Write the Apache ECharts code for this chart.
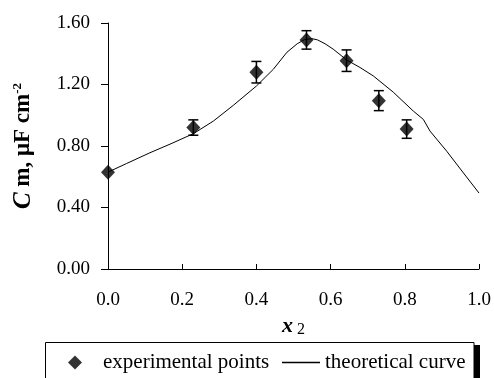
<!DOCTYPE html>
<html>
<head>
<meta charset="utf-8">
<script src="https://cdn.jsdelivr.net/npm/echarts@6/dist/echarts.min.js"></script>
<style>html,body{margin:0;padding:0;background:#fff}#c{width:494px;height:378px}</style>
</head>
<body>
<div id="c"></div>
<script>
// experimental points
var expX = [0.0, 0.23, 0.40, 0.535, 0.643, 0.73, 0.805];
var expY = [0.63, 0.92, 1.28, 1.49, 1.355, 1.095, 0.91];
var expErr = [0.0, 0.05, 0.07, 0.06, 0.07, 0.065, 0.06];
// theoretical curve
var curveX = [0.0, 0.05, 0.113, 0.17, 0.23, 0.284, 0.338, 0.40, 0.446, 0.482, 0.51, 0.53, 0.55, 0.565, 0.585, 0.607, 0.643, 0.679, 0.715, 0.769, 0.823, 0.85, 0.868, 0.913, 0.958, 1.0];
var curveY = [0.63, 0.686, 0.756, 0.815, 0.88, 0.962, 1.065, 1.19, 1.30, 1.409, 1.465, 1.492, 1.498, 1.49, 1.465, 1.43, 1.36, 1.311, 1.256, 1.15, 1.027, 0.973, 0.897, 0.766, 0.625, 0.494];
var xTicks = [0, 0.2, 0.4, 0.6, 0.8, 1.0];
var yTicks = [0, 0.4, 0.8, 1.2, 1.6];

var FONT = '"Liberation Serif", "Times New Roman", serif';
var expData = expX.map(function (x, i) { return [x, expY[i], expErr[i]]; });
var curveData = curveX.map(function (x, i) { return [x, curveY[i]]; });

var chart = echarts.init(document.getElementById('c'));
chart.setOption({
  animation: false,
  backgroundColor: '#fff',
  textStyle: { fontFamily: FONT, color: '#000' },
  grid: { left: 108, right: 15, top: 23, bottom: 109, containLabel: false, outerBoundsMode: 'none' },
  xAxis: {
    type: 'value', min: xTicks[0], max: xTicks[xTicks.length - 1], interval: 0.2,
    axisLine: { onZero: false, lineStyle: { color: '#000', width: 1 } },
    axisTick: { inside: true, length: 5, lineStyle: { color: '#000' } },
    splitLine: { show: false },
    axisLabel: { margin: 22, fontSize: 19, fontFamily: FONT, color: '#000', formatter: function (v) { return v.toFixed(1); } },
    name: '{x|x}{s| 2}', nameLocation: 'middle', nameGap: 39,
    nameTextStyle: { fontFamily: FONT, rich: {
      x: { fontFamily: FONT, fontSize: 22, fontWeight: 'bold', fontStyle: 'italic', color: '#000' },
      s: { fontFamily: FONT, fontSize: 16, color: '#000', padding: [8, 0, 0, 0] }
    } }
  },
  yAxis: {
    type: 'value', min: yTicks[0], max: yTicks[yTicks.length - 1], interval: 0.4,
    axisLine: { show: true, lineStyle: { color: '#000', width: 1 } },
    axisTick: { show: true, length: 7, lineStyle: { color: '#000' } },
    splitLine: { show: false },
    axisLabel: { margin: 18, fontSize: 19, fontFamily: FONT, color: '#000', formatter: function (v) { return v.toFixed(2); } },
    name: '{c|C}{m| m, μF cm}{p|-2}', nameLocation: 'middle', nameGap: 72, nameRotate: 90,
    nameTextStyle: { fontFamily: FONT, rich: {
      c: { fontFamily: FONT, fontSize: 25, fontWeight: 'bold', fontStyle: 'italic', color: '#000' },
      m: { fontFamily: FONT, fontSize: 23, fontWeight: 'bold', color: '#000' },
      p: { fontFamily: FONT, fontSize: 13, fontWeight: 'bold', color: '#000', padding: [0, 0, 12, 0] }
    } }
  },
  graphic: [
    { type: 'rect', shape: { x: 474, y: 345, width: 6, height: 40 }, style: { fill: '#000' }, z: 0 },
    { type: 'rect', shape: { x: 45.5, y: 342.5, width: 428.5, height: 50 }, style: { fill: '#fff', stroke: '#000', lineWidth: 1 }, z: 1 }
  ],
  legend: [
    { data: [{ name: 'experimental points', icon: 'diamond' }], left: 68, top: 352, padding: 0, itemWidth: 14, itemHeight: 14, z: 10,
      textStyle: { fontFamily: FONT, fontSize: 21, color: '#000', padding: [0, 0, 0, 16] }, selectedMode: false },
    { data: [{ name: 'theoretical curve', icon: 'rect' }], left: 282, top: 352, padding: 0, itemWidth: 38, itemHeight: 1.5, z: 10,
      textStyle: { fontFamily: FONT, fontSize: 21, color: '#000' }, selectedMode: false }
  ],
  series: [
    { name: 'theoretical curve', type: 'line', data: curveData, symbol: 'none', smooth: false,
      lineStyle: { color: '#000', width: 1 }, itemStyle: { color: '#000' }, z: 2 },
    { name: 'error', type: 'custom', data: expData, encode: { x: 0, y: 1 }, z: 3,
      renderItem: function (params, api) {
        var x = api.value(0), y = api.value(1), e = api.value(2);
        if (!e) return null;
        var t = api.coord([x, y + e]), b = api.coord([x, y - e]);
        var w = 5;
        var st = { stroke: '#000', lineWidth: 1.5 };
        return { type: 'group', children: [
          { type: 'line', shape: { x1: t[0], y1: t[1], x2: b[0], y2: b[1] }, style: st },
          { type: 'line', shape: { x1: t[0] - w, y1: t[1], x2: t[0] + w, y2: t[1] }, style: st },
          { type: 'line', shape: { x1: b[0] - w, y1: b[1], x2: b[0] + w, y2: b[1] }, style: st }
        ] };
      } },
    { name: 'experimental points', type: 'scatter', data: expData, symbol: 'diamond', symbolSize: [14, 15],
      itemStyle: { color: '#000' }, z: 4 }
  ]
});
</script>
</body>
</html>
